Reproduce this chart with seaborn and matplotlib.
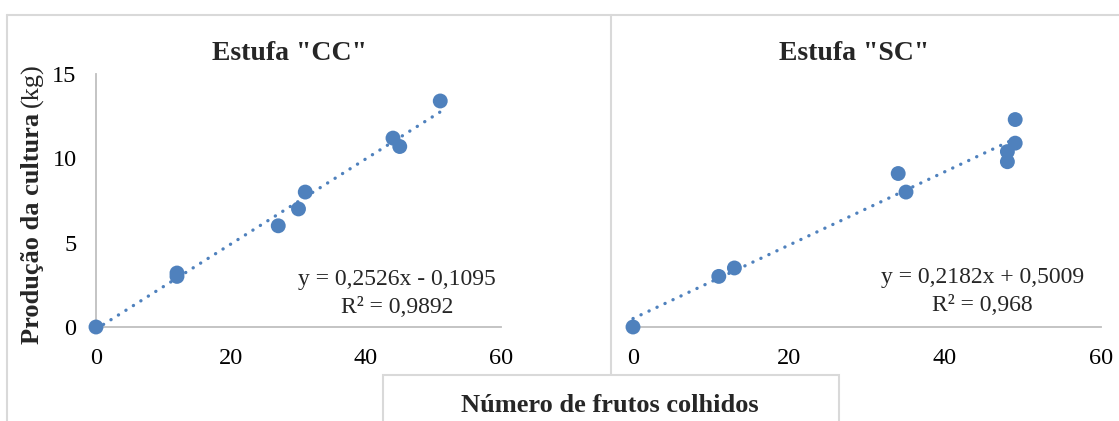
import matplotlib
matplotlib.use("Agg")
import matplotlib.pyplot as plt
import seaborn as sns
import pandas as pd
from matplotlib.patches import Rectangle
from matplotlib.lines import Line2D

# Harvest data per greenhouse: number of fruits picked vs. crop yield (kg)
frutos_cc = [0, 12, 12, 27, 30, 31, 44, 45, 51]
producao_cc = [0.0, 3.0, 3.2, 6.0, 7.0, 8.0, 11.2, 10.7, 13.4]

frutos_sc = [0, 11, 13, 34, 35, 48, 48, 49, 49]
producao_sc = [0.0, 3.0, 3.5, 9.1, 8.0, 9.8, 10.4, 10.9, 12.3]

titulos = ['Estufa "CC"', 'Estufa "SC"']
equacoes = ["y = 0,2526x - 0,1095\nR² = 0,9892", "y = 0,2182x + 0,5009\nR² = 0,968"]
x_ticks = [0, 20, 40, 60]
y_ticks = [0, 5, 10, 15]

sns.set_theme(style="white")
plt.rcParams["font.family"] = ["Liberation Serif", "DejaVu Serif"]

AZUL = "#4F81BD"
CINZA = "#BFBFBF"
MOLDURA = "#D9D9D9"
W, H = 1119, 421

fig = plt.figure(figsize=(W / 100, H / 100), dpi=100)

ax1 = fig.add_axes([96 / W, 1 - 327 / H, (501 - 96) / W, (327 - 74) / H])
ax2 = fig.add_axes([633 / W, 1 - 327 / H, (1101 - 633) / W, (327 - 74) / H])

dados = [
    pd.DataFrame({"frutos": frutos_cc, "producao": producao_cc}),
    pd.DataFrame({"frutos": frutos_sc, "producao": producao_sc}),
]

for ax, df in zip([ax1, ax2], dados):
    sns.regplot(
        data=df, x="frutos", y="producao", ax=ax, ci=None, truncate=True,
        scatter_kws=dict(s=115, color=AZUL, edgecolor="none", alpha=1, zorder=3),
        line_kws=dict(color=AZUL, lw=2.4, linestyle=(0, (0.05, 2.6)),
                      dash_capstyle="round", zorder=2),
    )
    ax.set_xlim(0, 60)
    ax.set_ylim(0, 15)
    ax.set_xticks(x_ticks)
    ax.set_yticks(y_ticks)
    ax.set_xlabel("")
    ax.set_ylabel("")
    ax.tick_params(axis="both", length=0, labelsize=17.5, colors="black")
    ax.tick_params(axis="x", pad=15)
    ax.tick_params(axis="y", pad=14)
    for s in ["top", "right"]:
        ax.spines[s].set_visible(False)
    for s in ["bottom", "left"]:
        ax.spines[s].set_color(CINZA)
        ax.spines[s].set_linewidth(1.3)
    ax.patch.set_alpha(0)
    for c in ax.collections:
        c.set_clip_on(False)
    for l in ax.lines:
        l.set_clip_on(False)

ax2.spines["left"].set_visible(False)
ax2.set_yticklabels([])

# Trend-line equations
ax1.text(0.743, 0.133, equacoes[0], transform=ax1.transAxes, ha="center", va="center",
         fontsize=17, linespacing=1.45)
ax2.text(0.746, 0.141, equacoes[1], transform=ax2.transAxes, ha="center", va="center",
         fontsize=17, linespacing=1.45)

# Panel titles
fig.text(290 / W, 1 - 53 / H, titulos[0], ha="center", va="center",
         fontsize=20, fontweight="bold")
fig.text(854 / W, 1 - 53 / H, titulos[1], ha="center", va="center",
         fontsize=20, fontweight="bold")

# Chart frames
for xs, ys in [([7, 7], [H, 15]), ([7, W + 5], [15, 15]), ([611, 611], [H, 15])]:
    fig.add_artist(Line2D([x / W for x in xs], [1 - y / H for y in ys], color=MOLDURA,
                          lw=1.5, transform=fig.transFigure))

# Shared x-axis title box
fig.add_artist(Rectangle((383 / W, -0.05), (839 - 383) / W, 0.05 + (H - 375) / H,
                         transform=fig.transFigure, facecolor="white", edgecolor=MOLDURA,
                         lw=1.5, zorder=5))
fig.text(610 / W, 1 - 405 / H, "Número de frutos colhidos", ha="center", va="center",
         fontsize=19, fontweight="bold", zorder=6)

# Y-axis title: bold name followed by regular unit
fig.canvas.draw()
renderer = fig.canvas.get_renderer()
yl_x = 32 / W
t_bold = fig.text(yl_x, 1 - 344 / H, "Produção da cultura", rotation=90,
                  ha="left", va="center", rotation_mode="anchor",
                  fontsize=19, fontweight="bold")
bb = t_bold.get_window_extent(renderer)
fig.text(yl_x, (bb.y1 + 6) / fig.bbox.height, "(kg)", rotation=90,
         ha="left", va="center", rotation_mode="anchor", fontsize=19)

fig.savefig("out.png", dpi=100, facecolor="white")
